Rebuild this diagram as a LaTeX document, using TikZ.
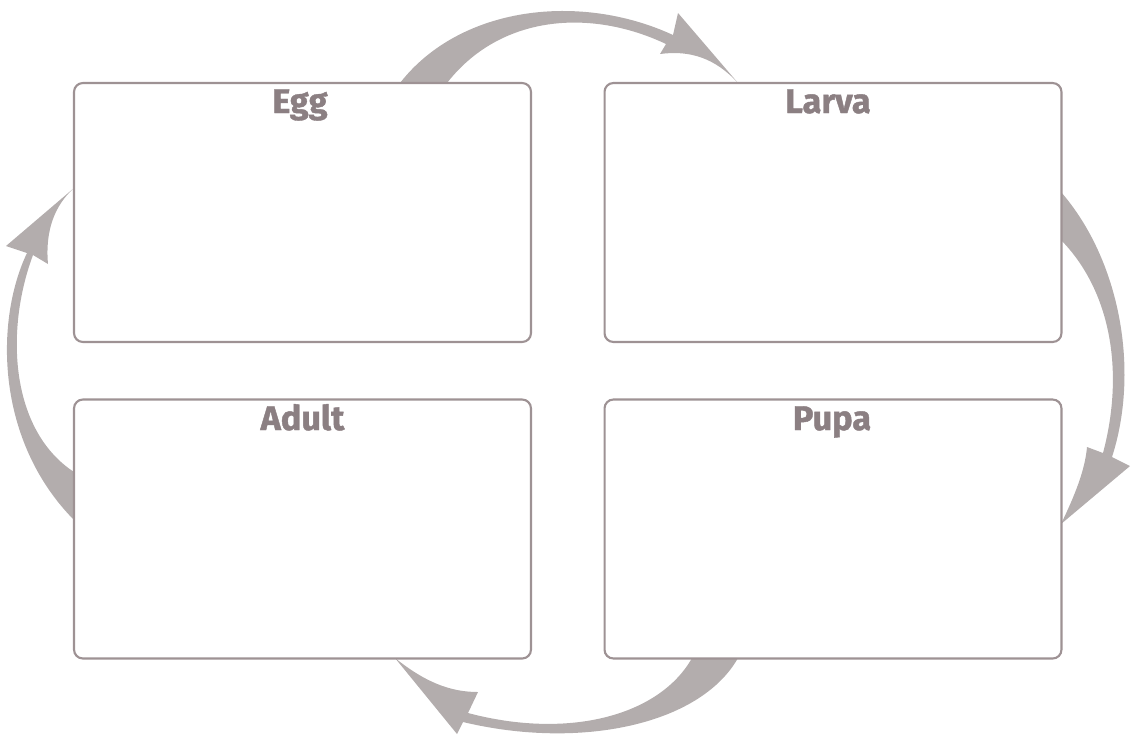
\documentclass[tikz,border=0pt]{standalone}
\usepackage{fontspec}
\setmainfont{Fira Sans}
\newfontfamily\stagefont{Fira Sans}[BoldFeatures={FakeBold=1.2}]
\usetikzlibrary{backgrounds}
\definecolor{arrowgray}{HTML}{B3ADAD}
\definecolor{boxline}{HTML}{9E9294}
\definecolor{labeltext}{HTML}{8B7F82}
\tikzset{
  stagebox/.style={draw=boxline, line width=1.2pt, rounded corners=5pt, fill=white,
    minimum width=9.14cm, minimum height=5.18cm, inner sep=0pt},
  stagelabel/.style={text=labeltext, font=\stagefont\bfseries\fontsize{19.5}{22}\selectfont, anchor=base, inner sep=0pt},
  cyclearrow/.style={fill=arrowgray, draw=none}
}
\begin{document}
\begin{tikzpicture}[x=0.02cm, y=-0.02cm]
\useasboundingbox (0,0) rectangle (1138,735);
\node[stagebox] (egg) at (302.5,212.5) {};
\node[stagebox] (larva) at (833,212.5) {};
\node[stagebox] (adult) at (302.5,529) {};
\node[stagebox] (pupa) at (833,529) {};
\node[stagelabel] (egglab) at (300,113) {Egg};
\node[stagelabel] (larvalab) at (828,113) {Larva};
\node[stagelabel] (adultlab) at (302.5,430) {Adult};
\node[stagelabel] (pupalab) at (832,430) {Pupa};
\begin{scope}[on background layer]
% Egg -> Larva
\fill[cyclearrow] (400,83) .. controls (460,6) and (580,-8) .. (673,35) -- (678,13) -- (738,83)
  .. controls (715,58) and (690,50) .. (660,54) -- (666,44)
  .. controls (590,8) and (500,15) .. (447,83) -- cycle;
% Larva -> Pupa
\fill[cyclearrow] (1061,192) .. controls (1120,260) and (1140,370) .. (1112,457) -- (1130,466) -- (1061,524)
  .. controls (1075,495) and (1085,470) .. (1087,447) -- (1103,453)
  .. controls (1125,370) and (1110,290) .. (1061,240) -- cycle;
% Pupa -> Adult
\fill[cyclearrow] (738,658) .. controls (700,725) and (580,750) .. (463,722) -- (457,734) -- (395,658)
  .. controls (425,682) and (450,692) .. (478,692) -- (468,713)
  .. controls (570,740) and (660,715) .. (692,658) -- cycle;
% Adult -> Egg
\fill[cyclearrow] (74,520) .. controls (-5,440) and (-5,320) .. (27,253) -- (6,246) -- (74,188)
  .. controls (55,205) and (45,230) .. (48,264) -- (33,255)
  .. controls (5,330) and (10,430) .. (74,472) -- cycle;
\end{scope}
\end{tikzpicture}
\end{document}
